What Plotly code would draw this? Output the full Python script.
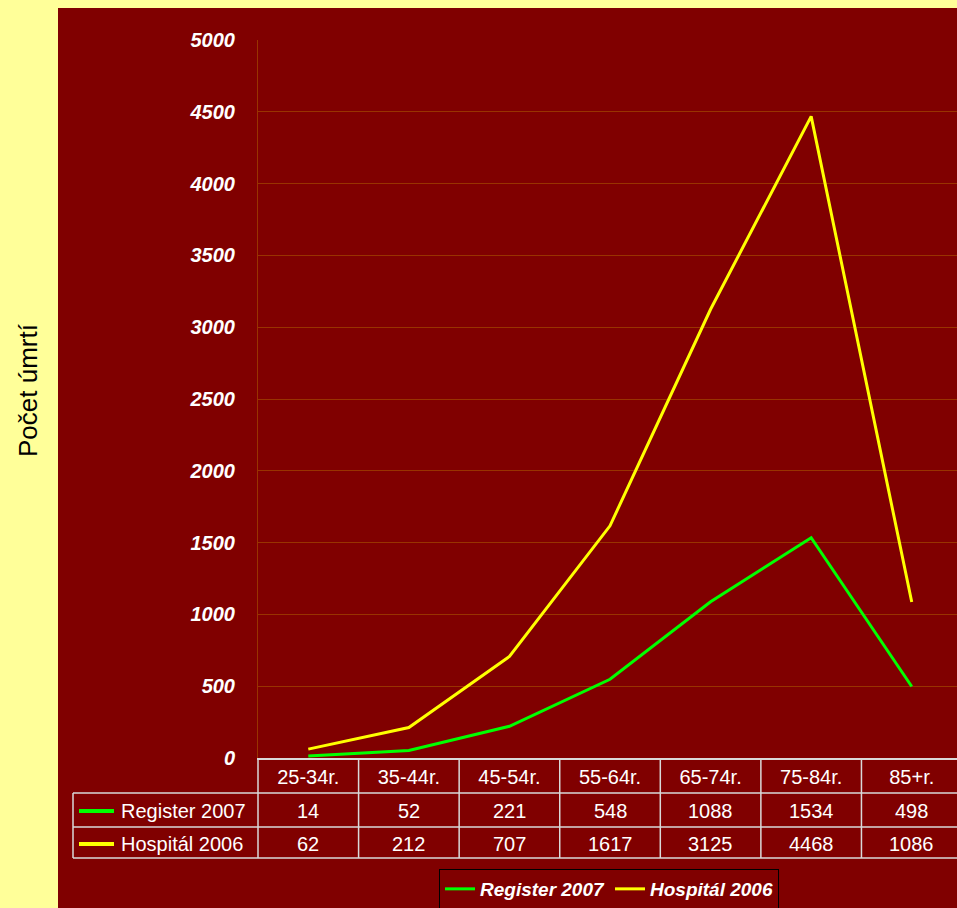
import plotly.graph_objects as go

categories = ["25-34r.", "35-44r.", "45-54r.", "55-64r.", "65-74r.", "75-84r.", "85+r."]
register_2007 = [14, 52, 221, 548, 1088, 1534, 498]
hospital_2006 = [62, 212, 707, 1617, 3125, 4468, 1086]
series_names = ["Register 2007", "Hospitál 2006"]
series_colors = ["#00FF00", "#FFFF00"]
y_ticks = [0, 500, 1000, 1500, 2000, 2500, 3000, 3500, 4000, 4500, 5000]

W, H = 957, 908
def px(x): return x / W
def py(y): return (H - y) / H

fig = go.Figure()
xi = list(range(len(categories)))
for name, vals, col in zip(series_names, [register_2007, hospital_2006], series_colors):
    fig.add_trace(go.Scatter(x=xi, y=vals, mode="lines", name=name,
                             line=dict(color=col, width=3), cliponaxis=False))

shapes = []
shapes.append(dict(type="rect", xref="paper", yref="paper", x0=px(58), x1=1.01, y0=-0.01, y1=py(8),
                   fillcolor="#800000", line=dict(width=0), layer="below"))
tcol = "#D9D9D9"
for yy in [793, 827, 858]:
    shapes.append(dict(type="line", xref="paper", yref="paper", x0=px(73), x1=1.0, y0=py(yy), y1=py(yy),
                       line=dict(color=tcol, width=1.5)))
shapes.append(dict(type="line", xref="x domain", yref="paper", x0=0, x1=0, y0=py(758), y1=py(858),
                   line=dict(color=tcol, width=1.5)))
shapes.append(dict(type="line", xref="paper", yref="paper", x0=px(73), x1=px(73), y0=py(793), y1=py(858),
                   line=dict(color=tcol, width=1.5)))
for i in range(len(categories)):
    shapes.append(dict(type="line", xref="x", yref="paper", x0=i + 0.5, x1=i + 0.5, y0=py(758), y1=py(858),
                       line=dict(color=tcol, width=1.5)))

annotations = []
row_y = [811, 844]
for name, vals, col, ry in zip(series_names, [register_2007, hospital_2006], series_colors, row_y):
    shapes.append(dict(type="line", xref="paper", yref="paper", x0=px(79), x1=px(114), y0=py(ry), y1=py(ry),
                       line=dict(color=col, width=4)))
    annotations.append(dict(x=px(119), y=py(ry), xref="paper", yref="paper", text=name, showarrow=False,
                            xanchor="left", yanchor="middle",
                            font=dict(family="Liberation Sans, Arial", size=20, color="white")))
    for c, v in zip(xi, vals):
        annotations.append(dict(x=c, y=py(ry), xref="x", yref="paper", text=str(v), showarrow=False,
                                xanchor="center", yanchor="middle",
                                font=dict(family="Liberation Sans, Arial", size=20, color="white")))

annotations.append(dict(x=px(28), y=py(390), xref="paper", yref="paper", text="Počet úmrtí", showarrow=False,
                        textangle=-90, xanchor="center", yanchor="middle",
                        font=dict(family="Liberation Sans, Arial", size=26, color="black")))

fig.update_layout(
    width=W, height=H,
    margin=dict(l=0, r=0, t=0, b=0, autoexpand=False),
    paper_bgcolor="#FFFF99",
    plot_bgcolor="rgba(0,0,0,0)",
    shapes=shapes,
    annotations=annotations,
    showlegend=True,
    legend=dict(orientation="h", x=px(609), y=py(889), xanchor="center", yanchor="middle",
                bgcolor="#800000", bordercolor="black", borderwidth=1, itemwidth=30,
                font=dict(family="Liberation Sans, Arial", size=19, color="white", weight="bold", style="italic")),
    xaxis=dict(domain=[px(258), 1], range=[-0.5, 6.45], tickmode="array", tickvals=xi, ticktext=categories,
               showgrid=False, zeroline=False, showline=True, linecolor=tcol, linewidth=1.5,
               ticks="", ticklabelstandoff=0, automargin=False,
               tickfont=dict(family="Liberation Sans, Arial", size=20, color="white")),
    yaxis=dict(domain=[py(758), py(40)], range=[0, 5000], tickmode="array", tickvals=y_ticks,
               showgrid=True, gridcolor="#993300", gridwidth=1, zeroline=False, automargin=False,
               showline=True, linecolor="#993300", linewidth=1, ticks="", ticklabelstandoff=18,
               tickfont=dict(family="Liberation Sans, Arial", size=20, color="white", weight="bold", style="italic")),
)

fig.write_html("out.html", config={"displayModeBar": False},
               post_script="document.body.style.margin='0';document.body.style.background='#FFFF99';")
